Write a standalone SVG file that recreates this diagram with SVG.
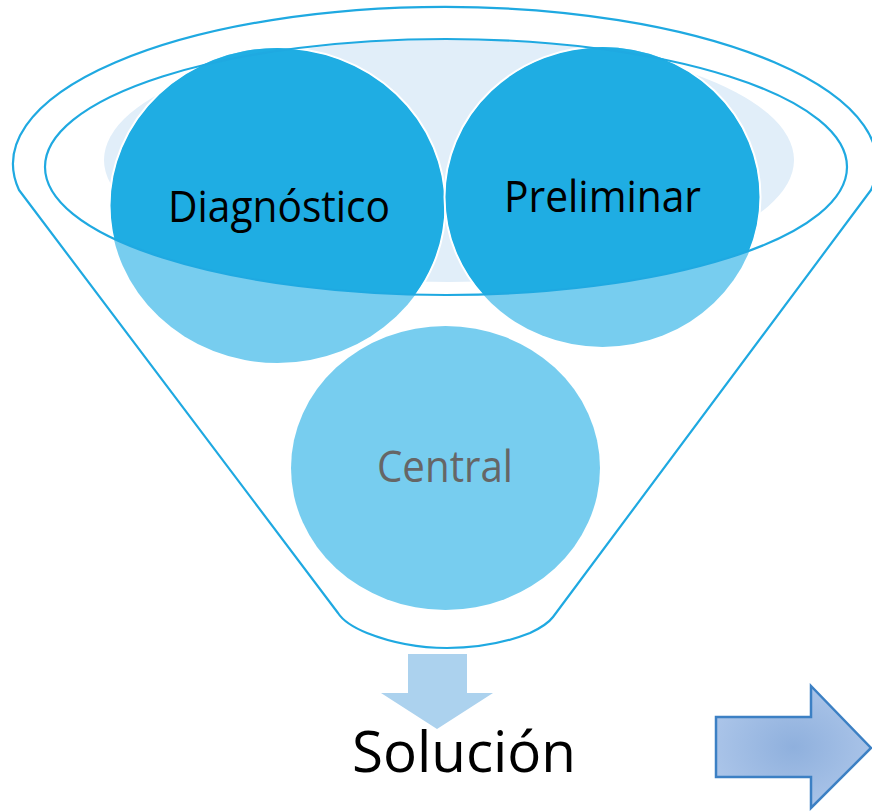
<svg xmlns="http://www.w3.org/2000/svg" width="872" height="811" viewBox="0 0 872 811">
<defs>
<style>
.rim{fill:none;stroke:#1FA9E1;stroke-width:2.2;stroke-linejoin:round}
.lt{fill:#77CDEF}
.dk{fill:#1FADE3}
.wline{fill:none;stroke:#FFFFFF;stroke-width:2}
.lbl{font-family:"Open Sans","Noto Sans","Liberation Sans",sans-serif;font-size:43px;fill:#000000}
</style>
<clipPath id="clipInner"><ellipse cx="446" cy="167" rx="401" ry="128"/></clipPath>
<clipPath id="clipDark"><rect x="0" y="0" width="872" height="167"/><ellipse cx="446" cy="167" rx="401" ry="128"/></clipPath>
<radialGradient id="arrGrad" cx="0.5" cy="0.5" r="0.6">
<stop offset="0" stop-color="#8FB0DD"/>
<stop offset="1" stop-color="#AEC7EA"/>
</radialGradient>
</defs>
<rect x="0" y="0" width="872" height="811" fill="#FFFFFF"/>

<g id="funnel">
<path class="rim" d="M 871,190 L 553,617 Q 547,625 530,633 Q 492,648 447,648 Q 405,648 367,633 Q 345,624 338,613 L 19,190 A 432 157 0 1 1 871,190 Z"/>
<ellipse cx="449" cy="160" rx="345" ry="122" fill="#E1EEF9" clip-path="url(#clipInner)"/>
</g>

<g id="node-diagnostico">
<ellipse class="lt" cx="277.5" cy="205.5" rx="167.5" ry="157.5"/>
<ellipse class="dk" cx="277.5" cy="205.5" rx="167.5" ry="157.5" clip-path="url(#clipDark)"/>
<ellipse class="wline" cx="277.5" cy="205.5" rx="168" ry="158" clip-path="url(#clipInner)"/>
<text class="lbl" x="168" y="222" textLength="222" lengthAdjust="spacingAndGlyphs">Diagnóstico</text>
</g>

<g id="node-preliminar">
<ellipse class="lt" cx="602.5" cy="197" rx="157.5" ry="150"/>
<ellipse class="dk" cx="602.5" cy="197" rx="157.5" ry="150" clip-path="url(#clipDark)"/>
<ellipse class="wline" cx="602.5" cy="197" rx="158" ry="150.5" clip-path="url(#clipInner)"/>
<text class="lbl" x="504" y="212" textLength="197" lengthAdjust="spacingAndGlyphs">Preliminar</text>
</g>

<g id="funnel-top-rim">
<ellipse class="rim" cx="446" cy="167" rx="401" ry="128"/>
</g>

<g id="node-central">
<ellipse class="lt" cx="445.5" cy="468" rx="154.5" ry="142"/>
<text class="lbl" x="377" y="482" textLength="136" lengthAdjust="spacingAndGlyphs" style="fill:#666666">Central</text>
</g>

<g id="connectors">
<path d="M 408,654 L 467,654 L 467,693 L 493,693 L 437,729 L 381,693 L 408,693 Z" fill="#ACD2EE"/>
</g>

<g id="node-solucion">
<text class="lbl" x="352" y="772" textLength="224" lengthAdjust="spacingAndGlyphs" style="font-size:56px">Solución</text>
</g>

<g id="right-arrow">
<path d="M 716,717 L 811,717 L 811,686 L 871,748 L 811,808 L 811,777 L 716,777 Z" fill="url(#arrGrad)" stroke="#3C80C4" stroke-width="2.5" stroke-linejoin="miter"/>
</g>
</svg>
